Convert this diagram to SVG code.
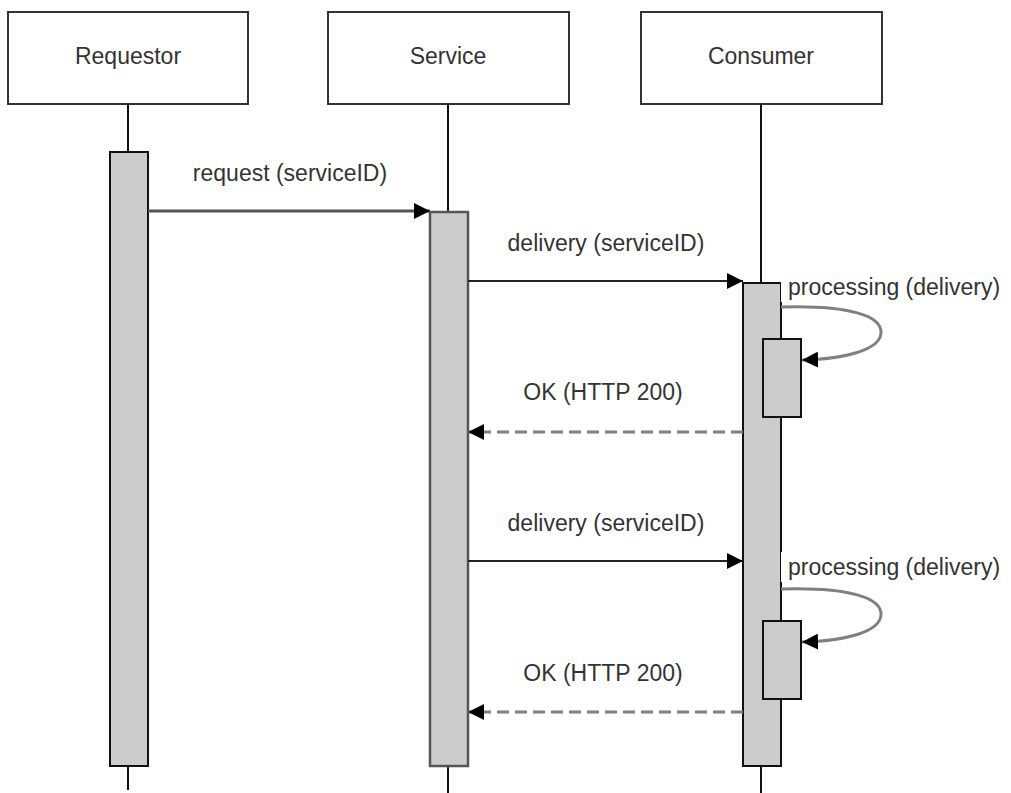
<svg xmlns="http://www.w3.org/2000/svg" width="1011" height="793" viewBox="0 0 1011 793">
<style>
.box{fill:#fff;stroke:#333;stroke-width:2}
.life{stroke:#111;stroke-width:2;fill:none}
.act{fill:#ccc;stroke:#111;stroke-width:2}
.act2{fill:#ccc;stroke:#555;stroke-width:2.5}
.lbl{font-family:"Liberation Sans",Arial,sans-serif;font-size:23px;fill:#333}
.msg{stroke:#222;stroke-width:2;fill:none}
.msg1{stroke:#555;stroke-width:3;fill:none}
.ret{stroke:#808080;stroke-width:3;stroke-dasharray:12 6;fill:none}
.loop{stroke:#808080;stroke-width:3;fill:none}
</style>
<defs>
<marker id="ah" markerUnits="userSpaceOnUse" markerWidth="16" markerHeight="16" viewBox="0 0 14 14" refX="14" refY="7" orient="auto">
<path d="M0,0 L14,7 L0,14 Z" fill="#000"/>
</marker>
</defs>
<g id="requestor">
<rect class="box" x="8" y="12" width="240" height="92"/>
<text class="lbl" x="128" y="64" text-anchor="middle">Requestor</text>
<line class="life" x1="128" y1="104" x2="128" y2="152"/>
<line class="life" x1="128" y1="766" x2="128" y2="790"/>
<rect class="act" x="110" y="152" width="38" height="614"/>
</g>
<g id="service">
<rect class="box" x="328" y="12" width="241" height="92"/>
<text class="lbl" x="448" y="64" text-anchor="middle">Service</text>
<line class="life" x1="448" y1="104" x2="448" y2="212"/>
<line class="life" x1="448" y1="766" x2="448" y2="793"/>
<rect class="act2" x="430" y="212" width="38" height="554"/>
</g>
<g id="consumer">
<rect class="box" x="641" y="12" width="241" height="92"/>
<text class="lbl" x="761" y="64" text-anchor="middle">Consumer</text>
<line class="life" x1="761" y1="104" x2="761" y2="283"/>
<line class="life" x1="761" y1="766" x2="761" y2="793"/>
<rect class="act" x="743" y="283" width="38" height="483"/>
<rect class="act" x="763" y="339" width="38" height="78"/>
<rect class="act" x="763" y="621" width="38" height="78"/>
</g>
<g id="connectors">
<line class="msg1" x1="148" y1="211" x2="430" y2="211" marker-end="url(#ah)"/>
<text class="lbl" x="290" y="181" text-anchor="middle">request (serviceID)</text>
<line class="msg" x1="468" y1="281" x2="743" y2="281" marker-end="url(#ah)"/>
<text class="lbl" x="606" y="251" text-anchor="middle">delivery (serviceID)</text>
<rect x="781" y="272" width="230" height="30" fill="#fff"/>
<text class="lbl" x="788" y="295">processing (delivery)</text>
<path class="loop" d="M781,307 C850,305 882,316 881,333 C880,350 845,359 802,360" marker-end="url(#ah)"/>
<line class="ret" x1="743" y1="432" x2="468" y2="432" marker-end="url(#ah)"/>
<text class="lbl" x="603" y="400" text-anchor="middle">OK (HTTP 200)</text>
<line class="msg" x1="468" y1="561" x2="743" y2="561" marker-end="url(#ah)"/>
<text class="lbl" x="606" y="531" text-anchor="middle">delivery (serviceID)</text>
<rect x="781" y="552" width="230" height="30" fill="#fff"/>
<text class="lbl" x="788" y="575">processing (delivery)</text>
<path class="loop" d="M781,589 C850,587 882,598 881,615 C880,632 845,641 802,642" marker-end="url(#ah)"/>
<line class="ret" x1="743" y1="712" x2="468" y2="712" marker-end="url(#ah)"/>
<text class="lbl" x="603" y="681" text-anchor="middle">OK (HTTP 200)</text>
</g>
</svg>
